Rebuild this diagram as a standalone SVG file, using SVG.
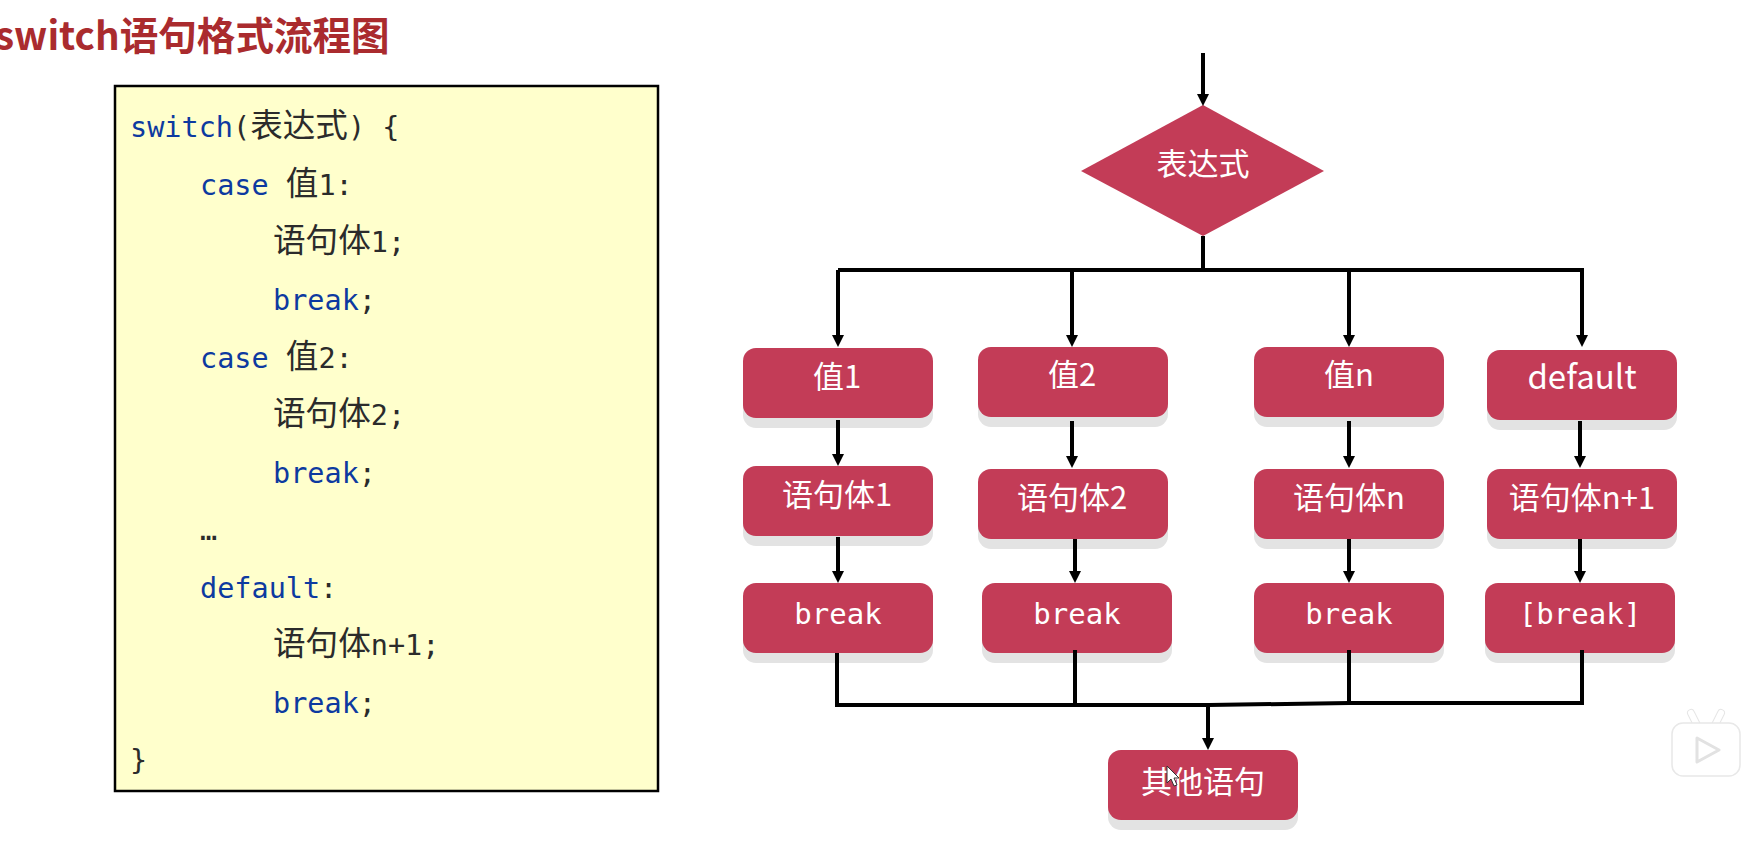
<svg xmlns="http://www.w3.org/2000/svg" width="1764" height="851" viewBox="0 0 1764 851">
<defs>
<style>
.bg{fill:#fff}
.title{font:700 38.6px "Noto Sans CJK SC","Noto Sans",sans-serif;fill:#AA2B2E}
.box{fill:#FFFFCC;stroke:#000;stroke-width:2.5}
.code{font:28.5px "DejaVu Sans Mono","Liberation Mono","Noto Sans CJK SC",monospace;fill:#2b2b2b}
.kw{fill:#0D3AA0}
.zh{font:32.6px "Noto Sans CJK SC",sans-serif}
.shadow{fill:#E3E3E3}
.n{fill:#C33C57}
.t{font:31px "Noto Sans CJK SC","Noto Sans",sans-serif;fill:#fff;text-anchor:middle}
.d{font-size:33px}
.m{font:29px "DejaVu Sans Mono",monospace;fill:#fff;text-anchor:middle}
.c{fill:none;stroke:#000;stroke-width:4}
.a{marker-end:url(#arrow)}
</style>
<marker id="arrow" markerUnits="userSpaceOnUse" markerWidth="12" markerHeight="12" refX="2" refY="6" orient="auto">
<path d="M0 0L12 6L0 12Z" fill="#000"/>
</marker>
<rect id="r" width="190" height="70" rx="13"/>
</defs>
<rect class="bg" width="1764" height="851"/>
<text class="title" x="-5" y="50">switch语句格式流程图</text>
<g id="code">
<rect class="box" x="115" y="86" width="543" height="705"/>
<text class="code" x="130" y="137"><tspan class="kw">switch</tspan>(<tspan class="zh">表达式</tspan>) {</text>
<text class="code" x="200" y="195"><tspan class="kw">case</tspan> <tspan class="zh">值</tspan>1:</text>
<text class="code" x="273" y="252"><tspan class="zh">语句体</tspan>1;</text>
<text class="code" x="273" y="310"><tspan class="kw">break</tspan>;</text>
<text class="code" x="200" y="368"><tspan class="kw">case</tspan> <tspan class="zh">值</tspan>2:</text>
<text class="code" x="273" y="425"><tspan class="zh">语句体</tspan>2;</text>
<text class="code" x="273" y="483"><tspan class="kw">break</tspan>;</text>
<text class="code" x="200" y="540">…</text>
<text class="code" x="200" y="598"><tspan class="kw">default</tspan>:</text>
<text class="code" x="273" y="655"><tspan class="zh">语句体</tspan>n+1;</text>
<text class="code" x="273" y="713"><tspan class="kw">break</tspan>;</text>
<text class="code" x="130" y="770">}</text>
</g>
<g id="n-expr"><path class="n" d="M1203 105L1324 171L1203 236L1081 171Z"/><text class="t" x="1203" y="175">表达式</text></g>
<g id="n-v1"><use href="#r" class="shadow" x="743" y="358"/><use href="#r" class="n" x="743" y="348"/><text class="t" x="837" y="388">值1</text></g>
<g id="n-s1"><use href="#r" class="shadow" x="743" y="476"/><use href="#r" class="n" x="743" y="466"/><text class="t" x="837" y="506">语句体1</text></g>
<g id="n-b1"><use href="#r" class="shadow" x="743" y="593"/><use href="#r" class="n" x="743" y="583"/><text class="m" x="838" y="624">break</text></g>
<g id="n-v2"><use href="#r" class="shadow" x="978" y="357"/><use href="#r" class="n" x="978" y="347"/><text class="t" x="1072" y="386">值2</text></g>
<g id="n-s2"><use href="#r" class="shadow" x="978" y="479"/><use href="#r" class="n" x="978" y="469"/><text class="t" x="1072" y="509">语句体2</text></g>
<g id="n-b2"><use href="#r" class="shadow" x="982" y="593"/><use href="#r" class="n" x="982" y="583"/><text class="m" x="1077" y="624">break</text></g>
<g id="n-vn"><use href="#r" class="shadow" x="1254" y="357"/><use href="#r" class="n" x="1254" y="347"/><text class="t" x="1349" y="386">值n</text></g>
<g id="n-sn"><use href="#r" class="shadow" x="1254" y="479"/><use href="#r" class="n" x="1254" y="469"/><text class="t" x="1349" y="509">语句体n</text></g>
<g id="n-bn"><use href="#r" class="shadow" x="1254" y="593"/><use href="#r" class="n" x="1254" y="583"/><text class="m" x="1349" y="624">break</text></g>
<g id="n-d"><use href="#r" class="shadow" x="1487" y="360"/><use href="#r" class="n" x="1487" y="350"/><text class="t d" x="1582" y="389">default</text></g>
<g id="n-sd"><use href="#r" class="shadow" x="1487" y="479"/><use href="#r" class="n" x="1487" y="469"/><text class="t" x="1582" y="509">语句体n+1</text></g>
<g id="n-bd"><use href="#r" class="shadow" x="1485" y="593"/><use href="#r" class="n" x="1485" y="583"/><text class="m" x="1580" y="624">[break]</text></g>
<g id="n-o"><use href="#r" class="shadow" x="1108" y="760"/><use href="#r" class="n" x="1108" y="750"/><text class="t" x="1203" y="793">其他语句</text></g>
<g id="connectors">
<path class="c a" d="M1203 53V96"/>
<path class="c" d="M1203 236V270"/>
<path class="c" d="M838 270H1584"/>
<path class="c a" d="M838 270V337"/>
<path class="c a" d="M1072 270V337"/>
<path class="c a" d="M1349 270V337"/>
<path class="c a" d="M1582 270V337"/>
<path class="c a" d="M838 420V456"/>
<path class="c a" d="M1072 421V458"/>
<path class="c a" d="M1349 421V458"/>
<path class="c a" d="M1580 421V458"/>
<path class="c a" d="M838 537V573"/>
<path class="c a" d="M1075 539V573"/>
<path class="c a" d="M1349 539V573"/>
<path class="c a" d="M1580 539V573"/>
<path class="c" d="M837 653V705"/>
<path class="c" d="M1075 650V705"/>
<path class="c" d="M1349 650V703"/>
<path class="c" d="M1582 650V703"/>
<path class="c" d="M835 705H1209L1349 703H1584"/>
<path class="c a" d="M1208 705V740"/>
</g>
<g id="logo">
<path d="M1691 713L1698 727M1721 713L1714 727" stroke="#e6e6e6" stroke-width="8" stroke-linecap="round"/>
<path d="M1691 713L1698 727M1721 713L1714 727" stroke="#fff" stroke-width="6" stroke-linecap="round"/>
<rect x="1672" y="723" width="68" height="53" rx="11" fill="#fff" stroke="#e8e8e8" stroke-width="1.5"/>
<path d="M1697 738L1719 750L1697 762Z" fill="#fff" stroke="#e2e2e2" stroke-width="3" stroke-linejoin="round"/>
</g>
<path id="cursor" d="M1167 766V783L1171 779L1174 786L1177 785L1174 778L1179 778Z" fill="#fff" stroke="#333" stroke-width="1"/>
</svg>
